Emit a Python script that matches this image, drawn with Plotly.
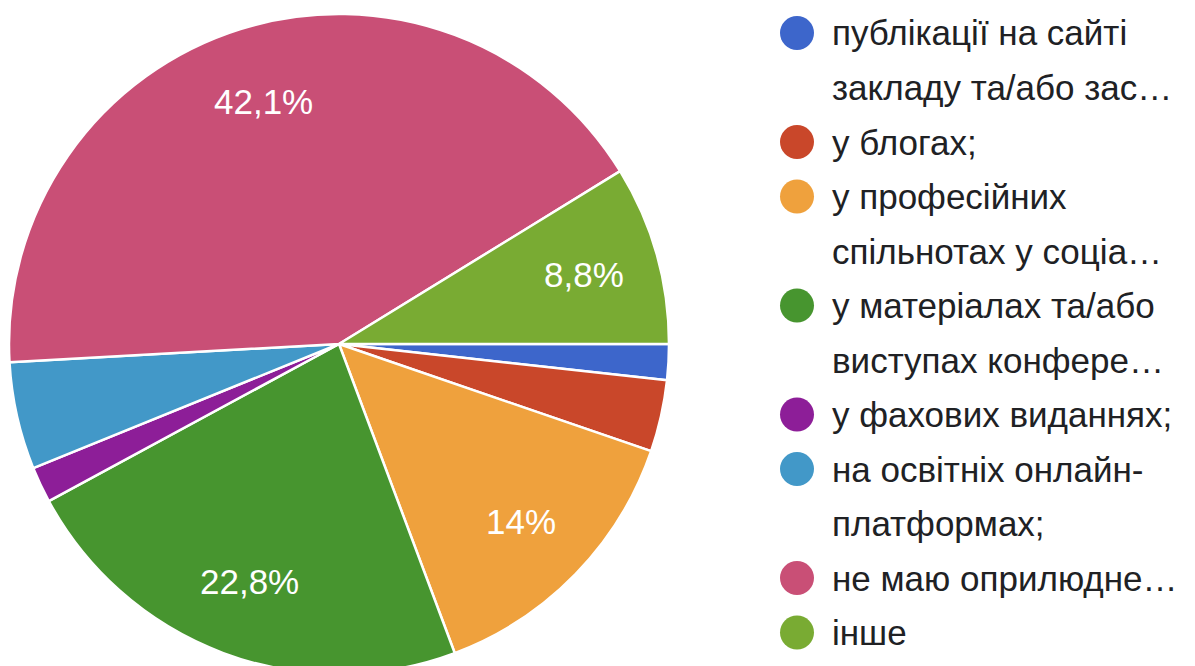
import math
import plotly.graph_objects as go

# Відповіді (кількість), 57 респондентів
categories = [
    "публікації на сайті закладу та/або засновника",
    "у блогах;",
    "у професійних спільнотах у соціальних мережах",
    "у матеріалах та/або виступах конференцій",
    "у фахових виданнях;",
    "на освітніх онлайн-платформах;",
    "не маю оприлюднених матеріалів",
    "інше",
]
counts = [1, 2, 8, 13, 1, 3, 24, 5]
colors = ["#3d66cb", "#c9472a", "#efa13d", "#47952f",
          "#8d1e98", "#4298c8", "#c94f76", "#79ab33"]

# legend text as shown (truncated, wrapped)
legend_lines = [
    ["публікації на сайті", "закладу та/або зас…"],
    ["у блогах;"],
    ["у професійних", "спільнотах у соціа…"],
    ["у матеріалах та/або", "виступах конфере…"],
    ["у фахових виданнях;"],
    ["на освітніх онлайн-", "платформах;"],
    ["не маю оприлюдне…"],
    ["інше"],
]

W, H = 1195, 666
FONT = "Liberation Sans, Arial, sans-serif"
total = sum(counts)

# pie geometry in figure pixels (page body adds 8px margin)
cx, cy, r = 331, 336, 330


def pct_label(v):
    p = round(v / total * 100, 1)
    if p < 8:
        return ""
    s = ("%.1f" % p).rstrip("0").rstrip(".")
    return s.replace(".", ",") + "%"


fig = go.Figure()

fig.add_trace(
    go.Pie(
        labels=categories,
        values=counts,
        textinfo="none",
        marker=dict(colors=colors, line=dict(color="white", width=2.5)),
        sort=False,
        direction="clockwise",
        rotation=90,
        showlegend=False,
        hoverinfo="label+percent",
        domain=dict(x=[(cx - r) / W, (cx + r) / W], y=[1 - (cy + r) / H, 1 - (cy - r) / H]),
    )
)

# percentage labels, placed along each slice's mid angle
cum = 0
for v in counts:
    mid = (cum + v / 2) / total * 2 * math.pi
    cum += v
    lab = pct_label(v)
    if not lab:
        continue
    px = cx + 0.77 * r * math.cos(mid)
    py = cy + 0.77 * r * math.sin(mid)
    fig.add_annotation(
        text=lab,
        xref="paper", yref="paper",
        x=px / W, y=1 - py / H,
        xanchor="center", yanchor="middle",
        showarrow=False,
        font=dict(family=FONT, size=35, color="white"),
    )

# legend drawn by hand to get the tall line spacing
line_y0 = 25
line_step = 54.5
k = 0
for color, lines in zip(colors, legend_lines):
    y_c = line_y0 + line_step * k
    fig.add_shape(
        type="circle",
        xref="paper", yref="paper",
        xsizemode="pixel", ysizemode="pixel",
        xanchor=789 / W, yanchor=1 - y_c / H,
        x0=-17, x1=17, y0=-17, y1=17,
        fillcolor=color, line=dict(width=0),
    )
    for line in lines:
        y_t = line_y0 + line_step * k
        fig.add_annotation(
            text=line,
            xref="paper", yref="paper",
            x=822 / W, y=1 - y_t / H,
            xanchor="left", yanchor="middle",
            showarrow=False,
            font=dict(family=FONT, size=35, color="#202124"),
        )
        k += 1

fig.update_layout(
    width=W,
    height=H,
    margin=dict(l=0, r=0, t=0, b=0),
    paper_bgcolor="white",
    plot_bgcolor="white",
)

fig.write_html("out.html")
